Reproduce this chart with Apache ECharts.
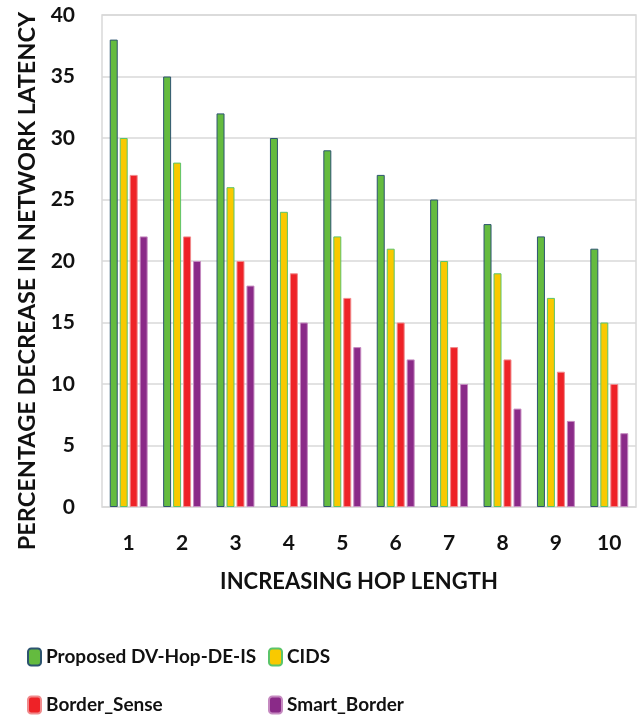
<!DOCTYPE html>
<html><head><meta charset="utf-8">
<script src="https://cdn.jsdelivr.net/npm/echarts@6/dist/echarts.min.js"></script>
<style>html,body{margin:0;padding:0;background:#fff}#c{width:640px;height:719px}</style>
</head><body><div id="c"></div>
<script>
const categories = ['1','2','3','4','5','6','7','8','9','10'];
const proposed = [38,35,32,30,29,27,25,23,22,21];
const cids = [30,28,26,24,22,21,20,19,17,15];
const borderSense = [27,22,20,19,17,15,13,12,11,10];
const smartBorder = [22,20,18,15,13,12,10,8,7,6];
const yTicks = [0,5,10,15,20,25,30,35,40];

const FONT = 'Lato';
const chart = echarts.init(document.getElementById('c'));
function bar(name, data, color, border) {
  return {name, type:'bar', data, barGap:'25%', barCategoryGap:'29%',
    itemStyle:{color, borderColor:border, borderWidth:1}};
}
const legendText = {color:'#111', fontSize:19, fontWeight:'bold', fontFamily:FONT, lineHeight:22};
chart.setOption({
  animation:false,
  textStyle:{fontFamily:FONT},
  grid:{left:102, right:4, top:15, bottom:212, show:true, borderColor:'#d9d9d9', borderWidth:1.5,
    outerBoundsMode:'none', containLabel:false},
  xAxis:{type:'category', data:categories,
    axisLine:{show:false}, axisTick:{show:false},
    axisLabel:{color:'#111', fontSize:21, fontWeight:'bold', fontFamily:FONT, margin:26},
    name:'INCREASING HOP LENGTH', nameLocation:'middle', nameGap:64,
    nameTextStyle:{color:'#111', fontSize:22, fontWeight:'bold', fontFamily:FONT, padding:[0,20,0,0]}},
  yAxis:{type:'value', min:yTicks[0], max:yTicks[yTicks.length-1], interval:5,
    axisLine:{show:false}, axisTick:{show:false},
    splitLine:{lineStyle:{color:'#d9d9d9', width:1.5}},
    axisLabel:{color:'#111', fontSize:21, fontWeight:'bold', fontFamily:FONT, margin:27},
    name:'PERCENTAGE DECREASE IN NETWORK LATENCY', nameLocation:'middle', nameGap:63,
    nameTextStyle:{color:'#111', fontSize:23.5, fontWeight:'bold', fontFamily:FONT, padding:[0,40,0,0]}},
  legend:[
    {data:['Proposed DV-Hop-DE-IS','Border_Sense'], orient:'vertical', left:27, top:646, height:70, padding:0,
      itemWidth:13, itemHeight:17, itemGap:26, textStyle:legendText},
    {data:['CIDS','Smart_Border'], orient:'vertical', left:268, top:646, height:70, padding:0,
      itemWidth:13, itemHeight:17, itemGap:26, textStyle:legendText}
  ],
  series:[
    bar('Proposed DV-Hop-DE-IS', proposed, '#64bb3f', '#2d5470'),
    bar('CIDS', cids, '#f9c900', '#5bc46a'),
    bar('Border_Sense', borderSense, '#ee2227', '#f08a8c'),
    bar('Smart_Border', smartBorder, '#8a2a88', '#c58ac0')
  ]
});
</script></body></html>
